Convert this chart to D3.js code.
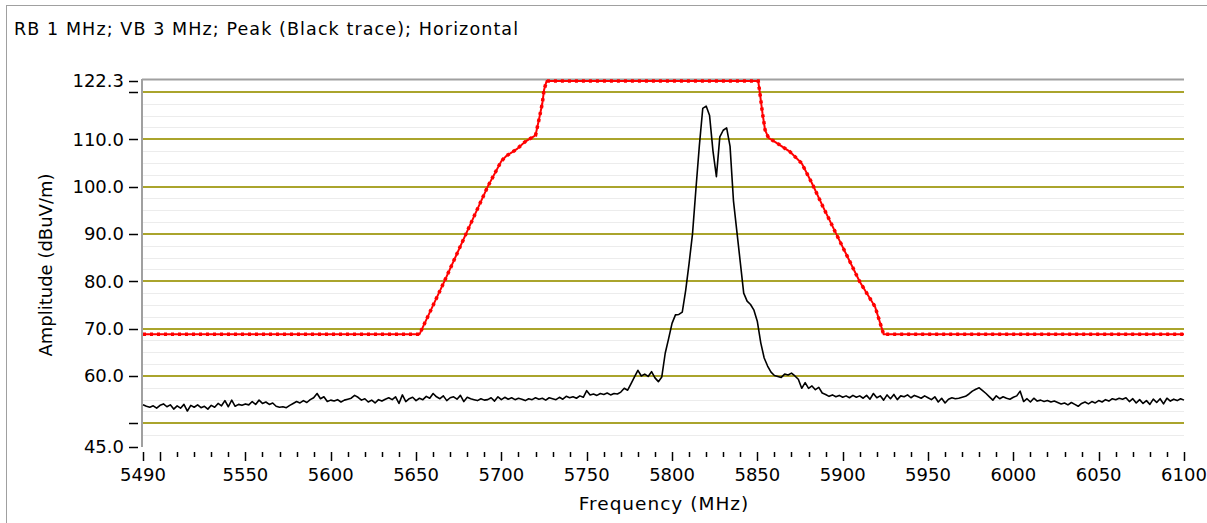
<!DOCTYPE html>
<html>
<head>
<meta charset="utf-8">
<script src="https://cdn.jsdelivr.net/npm/d3@7"></script>
<style>
  body { margin: 0; background: #fff; }
  text { font-family: "DejaVu Sans", Verdana, sans-serif; fill: #000; }
</style>
</head>
<body>
<div id="chart"></div>
<script>
var w = 1207, h = 523;

var chartTitle = "RB 1 MHz; VB 3 MHz; Peak (Black trace); Horizontal";
var xTitle = "Frequency (MHz)";
var yTitle = "Amplitude (dBuV/m)";

// axis ticks (empty label = tick without text)
var xTicks = [5490, 5500, 5550, 5600, 5650, 5700, 5750, 5800, 5850, 5900, 5950, 6000, 6050, 6100];
var xTickLabels = ["5490", "", "5550", "5600", "5650", "5700", "5750", "5800", "5850", "5900", "5950", "6000", "6050", "6100"];
var yTicks = [45, 50, 60, 70, 80, 90, 100, 110, 120, 122.3];
var yTickLabels = ["45.0", "", "60.0", "70.0", "80.0", "90.0", "100.0", "110.0", "", "122.3"];
var yGrid = [50, 60, 70, 80, 90, 100, 110, 120];

// limit mask (red trace)
var maskFreq = [5490, 5652, 5667, 5679, 5692, 5700, 5703, 5709, 5714, 5720, 5722, 5724, 5725, 5726.5,
                5850.5, 5851.5, 5853, 5854.5, 5856.5, 5861, 5869, 5876, 5882, 5888.5, 5896.5, 5910, 5919, 5924, 6100];
var maskAmp = [68.8, 68.8, 80.3, 89.8, 100.0, 105.4, 106.5, 107.9, 109.5, 110.8, 114.1, 117.6, 120.4, 122.3,
               122.3, 119.7, 115.5, 112.0, 110.3, 109.3, 107.4, 104.9, 100.7, 95.7, 89.8, 79.9, 74.6, 68.8, 68.8];

// peak trace (black), 5490..6100 MHz every 2 MHz
var traceStart = 5490, traceStep = 2;
var traceAmp = [
  53.9, 53.6, 53.4, 53.7, 53.2, 53.8, 54.1, 53.5, 53.9, 53.0, // 5490
  53.7, 53.2, 54.0, 52.6, 53.8, 53.4, 53.9, 53.3, 53.6, 53.0, // 5510
  53.8, 53.4, 54.2, 53.7, 54.8, 53.5, 54.9, 53.6, 54.0, 53.8, // 5530
  54.1, 53.9, 54.6, 54.0, 54.9, 54.2, 54.5, 54.0, 54.3, 53.6, // 5550
  53.4, 53.5, 53.3, 53.8, 54.2, 54.6, 54.3, 54.8, 54.4, 55.0, // 5570
  55.4, 56.3, 55.2, 55.6, 54.6, 54.9, 54.7, 55.0, 54.5, 54.9, // 5590
  55.1, 55.3, 55.9, 55.5, 54.9, 55.2, 54.5, 54.9, 54.3, 55.0, // 5610
  54.7, 55.1, 55.4, 55.0, 55.6, 54.2, 56.0, 54.6, 55.2, 55.5, // 5630
  54.8, 55.3, 55.0, 55.7, 55.3, 56.3, 55.6, 55.2, 55.8, 54.8, // 5650
  55.4, 55.6, 55.1, 55.9, 54.6, 55.5, 55.2, 55.0, 54.8, 55.2, // 5670
  54.9, 55.0, 55.4, 54.7, 55.6, 55.0, 55.5, 55.1, 55.4, 55.0, // 5690
  55.3, 55.1, 54.8, 55.2, 55.0, 55.4, 55.1, 55.3, 54.9, 55.4, // 5710
  55.2, 55.0, 55.5, 55.1, 55.7, 55.4, 55.6, 55.3, 55.8, 55.5, // 5730
  56.9, 56.0, 56.2, 55.9, 56.3, 56.1, 56.4, 56.0, 56.3, 56.2, // 5750
  56.6, 57.4, 57.0, 58.4, 59.8, 61.2, 60.0, 60.4, 59.9, 60.9, // 5770
  59.6, 58.8, 59.8, 64.8, 67.9, 71.1, 72.9, 73.0, 73.5, 78.1, // 5790
  83.8, 90.0, 99.5, 108.6, 116.5, 117.0, 115.0, 107.5, 102.1, 110.5, // 5810
  111.9, 112.4, 108.5, 97.0, 90.5, 84.0, 77.5, 75.8, 75.1, 73.9, // 5830
  71.5, 67.0, 63.8, 62.1, 60.8, 60.1, 59.9, 59.7, 60.4, 60.2, // 5850
  60.6, 60.0, 59.3, 57.4, 58.6, 57.4, 57.9, 57.1, 57.6, 56.4, // 5870
  56.1, 55.7, 56.0, 55.6, 55.9, 55.5, 55.8, 55.4, 55.9, 55.5, // 5890
  55.8, 55.3, 55.9, 55.1, 56.3, 55.4, 55.8, 54.9, 56.0, 55.2, // 5910
  56.1, 55.0, 55.8, 55.6, 56.0, 55.4, 55.9, 55.6, 55.3, 55.8, // 5930
  55.4, 55.0, 55.6, 54.5, 55.3, 54.3, 55.1, 55.4, 55.2, 55.3, // 5950
  55.5, 55.7, 56.2, 56.8, 57.2, 57.5, 56.9, 56.3, 55.6, 54.9, // 5970
  55.8, 55.2, 55.6, 55.3, 55.1, 55.5, 55.8, 56.8, 54.6, 55.2, // 5990
  54.5, 55.3, 54.7, 54.9, 54.6, 54.8, 54.5, 54.7, 54.4, 54.1, // 6010
  54.3, 53.9, 54.4, 54.0, 53.6, 54.2, 54.5, 54.1, 54.6, 54.3, // 6030
  54.8, 54.5, 55.0, 54.7, 55.2, 55.0, 55.3, 55.1, 55.4, 54.6, // 6050
  55.2, 54.3, 55.0, 54.2, 54.8, 54.0, 55.1, 54.4, 55.2, 54.1, // 6070
  55.3, 54.7, 55.1, 54.8, 55.2, 54.9                          // 6090
];

var svg = d3.select("#chart").append("svg")
    .attr("width", w)
    .attr("height", h);

// outer panel frame
svg.append("rect")
    .attr("x", 6.5).attr("y", 5.5)
    .attr("width", w).attr("height", h)
    .attr("fill", "#fff")
    .attr("stroke", "#a0a0a0");

svg.append("text")
    .attr("x", 14).attr("y", 35)
    .attr("font-size", "17.5px")
    .attr("letter-spacing", "1.1px")
    .text(chartTitle);

var x = d3.scaleLinear().domain([5490, 6100]).range([143, 1184]);
var y = d3.scaleLinear().domain([45, 122.3]).range([447, 81]);

//minor grid every 2.5 dB
var minorY = d3.range(47.5, 122.3, 2.5).filter(function(v) { return v % 10 != 0; });
svg.append("g").selectAll("line")
    .data(minorY)
    .enter().append("line")
    .attr("x1", x(5490)).attr("x2", x(6100))
    .attr("y1", function(d) { return Math.round(y(d)) + 0.5; })
    .attr("y2", function(d) { return Math.round(y(d)) + 0.5; })
    .attr("stroke", "#ececec");

// major grid
svg.append("g").selectAll("line")
    .data(yGrid)
    .enter().append("line")
    .attr("x1", x(5490)).attr("x2", x(6100))
    .attr("y1", function(d) { return Math.round(y(d)); })
    .attr("y2", function(d) { return Math.round(y(d)); })
    .attr("stroke", "#aaa42c")
    .attr("stroke-width", 2);

// frame: top and left
svg.append("line")
    .attr("x1", x(5490) - 1).attr("x2", x(6100))
    .attr("y1", 79.5).attr("y2", 79.5)
    .attr("stroke", "#a0a0a0").attr("stroke-width", 2);
svg.append("line")
    .attr("x1", 142).attr("x2", 142)
    .attr("y1", 79).attr("y2", y(45))
    .attr("stroke", "#a0a0a0").attr("stroke-width", 2);

// y ticks
var yt = svg.append("g").selectAll("g")
    .data(yTicks)
    .enter().append("g");
yt.append("line")
    .attr("x1", 129).attr("x2", 138)
    .attr("y1", function(d) { return Math.round(y(d)) + 0.5; })
    .attr("y2", function(d) { return Math.round(y(d)) + 0.5; })
    .attr("stroke", "#000").attr("stroke-width", 1.5);
yt.append("text")
    .attr("x", 124)
    .attr("y", function(d) { return y(d); })
    .attr("dy", "0.36em")
    .attr("text-anchor", "end")
    .attr("font-size", "18px")
    .text(function(d, i) { return yTickLabels[i]; });

// x ticks
var minorX = d3.range(5510, 6100, 10).filter(function(v) { return v % 50 != 0; });
svg.append("g").selectAll("line")
    .data(minorX)
    .enter().append("line")
    .attr("x1", function(d) { return Math.round(x(d)) + 0.5; })
    .attr("x2", function(d) { return Math.round(x(d)) + 0.5; })
    .attr("y1", 452).attr("y2", 457)
    .attr("stroke", "#000").attr("stroke-width", 1.5);
var xt = svg.append("g").selectAll("g")
    .data(xTicks)
    .enter().append("g");
xt.append("line")
    .attr("x1", function(d) { return Math.round(x(d)) + 0.5; })
    .attr("x2", function(d) { return Math.round(x(d)) + 0.5; })
    .attr("y1", 452).attr("y2", 461)
    .attr("stroke", "#000").attr("stroke-width", 1.5);
xt.append("text")
    .attr("x", function(d) { return x(d); })
    .attr("y", 481)
    .attr("text-anchor", "middle")
    .attr("font-size", "18px")
    .text(function(d, i) { return xTickLabels[i]; });

svg.append("text")
    .attr("x", 664).attr("y", 510)
    .attr("text-anchor", "middle")
    .attr("font-size", "18.5px")
    .attr("letter-spacing", "1px")
    .text(xTitle);
svg.append("text")
    .attr("transform", "translate(52,265) rotate(-90)")
    .attr("text-anchor", "middle")
    .attr("font-size", "18px")
    .text(yTitle);

// limit line
var mask = maskFreq.map(function(f, i) { return [f, maskAmp[i]]; });
var line = d3.line()
    .x(function(d) { return x(d[0]); })
    .y(function(d) { return y(d[1]); });
svg.append("path")
    .attr("d", line(mask))
    .attr("fill", "none")
    .attr("stroke", "#ff0000")
    .attr("stroke-width", 2);
svg.append("path")
    .attr("d", line(mask))
    .attr("fill", "none")
    .attr("stroke", "#ff0000")
    .attr("stroke-width", 3.5)
    .attr("stroke-dasharray", "3,4");

// measured trace
var trace = traceAmp.map(function(a, i) { return [traceStart + i * traceStep, a]; });
svg.append("path")
    .attr("d", line(trace))
    .attr("fill", "none")
    .attr("stroke", "#000")
    .attr("stroke-width", 1.6)
    .attr("stroke-linejoin", "round");
</script>
</body>
</html>
